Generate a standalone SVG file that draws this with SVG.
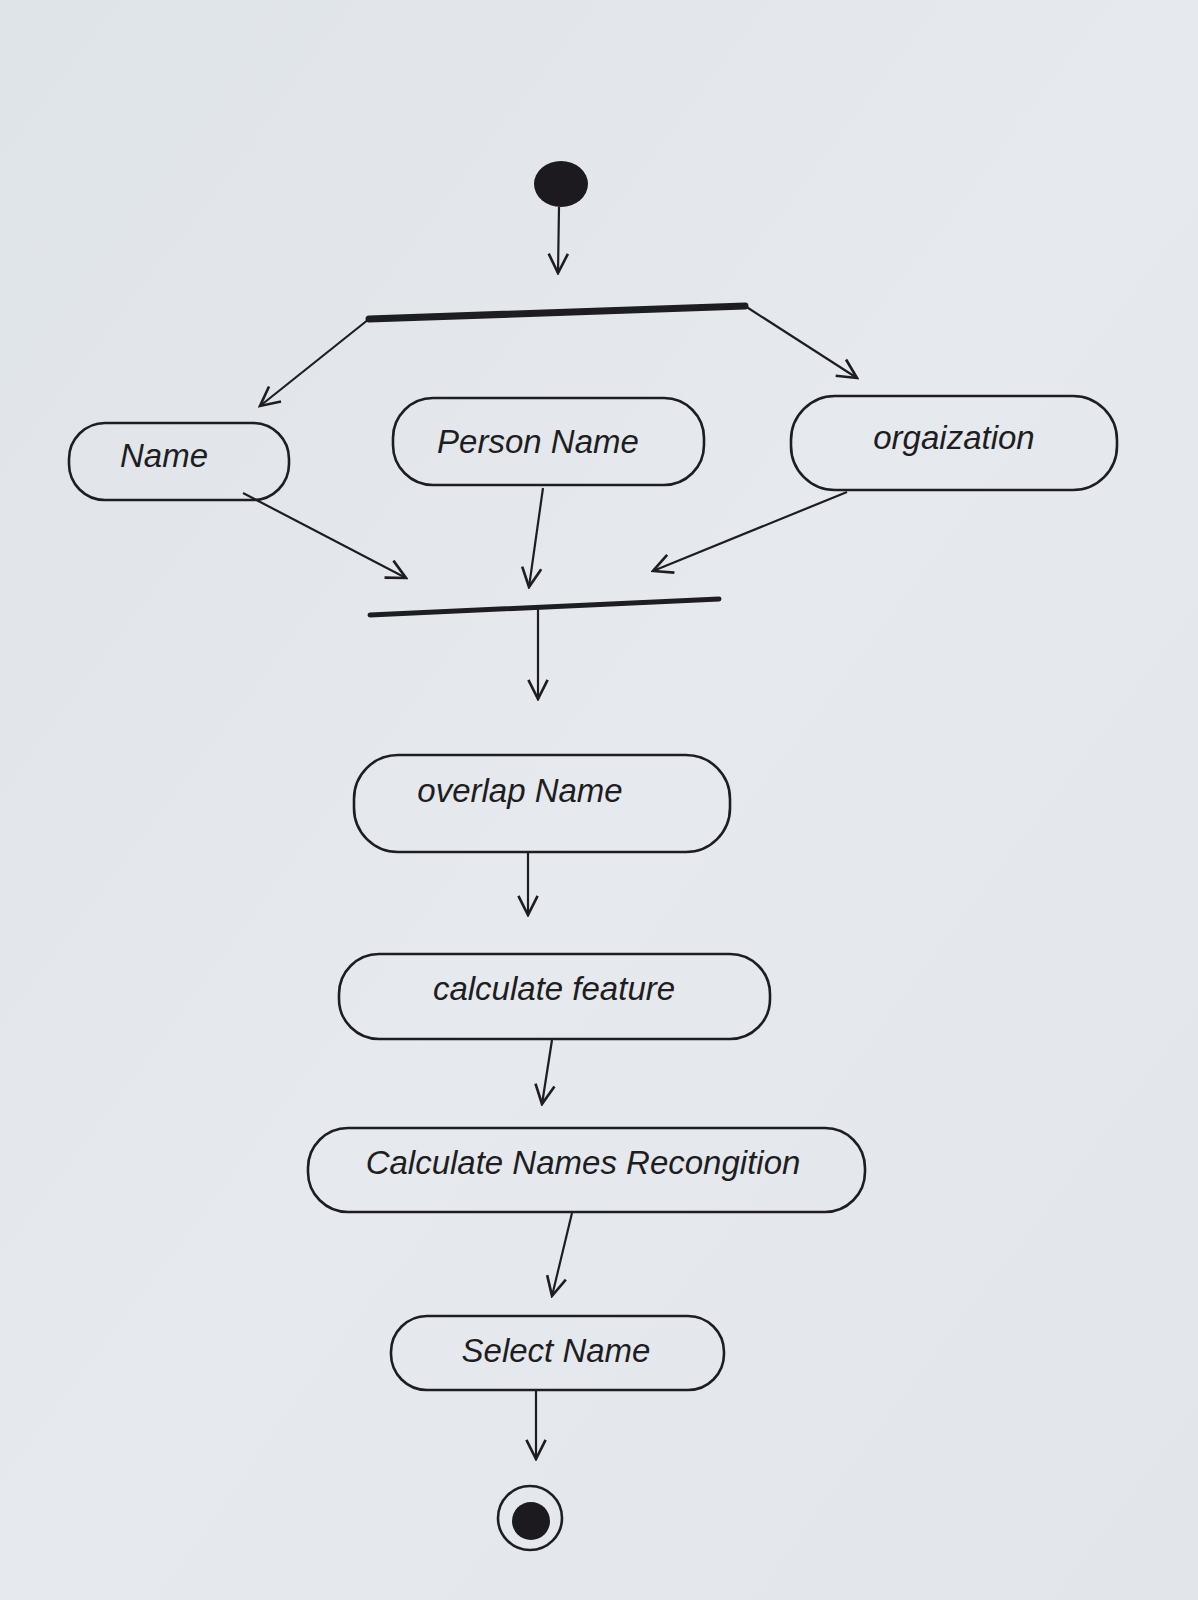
<svg xmlns="http://www.w3.org/2000/svg" width="1198" height="1600" viewBox="0 0 1198 1600">
<defs>
<linearGradient id="paper" x1="0" y1="0" x2="1" y2="1">
<stop offset="0" stop-color="#dfe4e9"/>
<stop offset="0.5" stop-color="#e6e9ed"/>
<stop offset="1" stop-color="#e2e5ea"/>
</linearGradient>
<marker id="arr" viewBox="0 0 20 20" refX="18" refY="10" markerWidth="24" markerHeight="24" markerUnits="userSpaceOnUse" orient="auto">
<polyline points="2,2 18,10 2,18" fill="none" stroke="#1e1e22" stroke-width="2.2"/>
</marker>
<style>
.node rect{fill:none;stroke:#1e1e22;stroke-width:2.6}
.node text{font-family:"Liberation Sans",Arial,sans-serif;font-style:italic;font-size:33px;fill:#1e1e22;text-anchor:middle;dominant-baseline:central}
.conn line{stroke:#1e1e22;stroke-width:2.2;marker-end:url(#arr)}
.bar{stroke:#1e1e22;stroke-linecap:round}
</style>
</defs>
<rect width="1198" height="1600" fill="url(#paper)"/>

<g id="start"><ellipse cx="561" cy="184" rx="27" ry="23" fill="#1c1a1f"/></g>
<g id="fork"><line class="bar" x1="369" y1="319" x2="745" y2="306" stroke-width="7"/></g>
<g id="join"><line class="bar" x1="370" y1="615" x2="719" y2="599" stroke-width="5"/></g>

<g id="name" class="node"><rect x="69" y="423" width="220" height="77" rx="36"/><text x="164" y="455">Name</text></g>
<g id="person-name" class="node"><rect x="393" y="398" width="311" height="87" rx="40"/><text x="538" y="441">Person Name</text></g>
<g id="organization" class="node"><rect x="791" y="396" width="326" height="94" rx="44"/><text x="954" y="437">orgaization</text></g>
<g id="overlap-name" class="node"><rect x="354" y="755" width="376" height="97" rx="44"/><text x="520" y="790">overlap Name</text></g>
<g id="calculate-feature" class="node"><rect x="339" y="954" width="431" height="85" rx="40"/><text x="554" y="988">calculate feature</text></g>
<g id="calc-names" class="node"><rect x="308" y="1128" width="557" height="84" rx="40"/><text x="583" y="1162">Calculate Names Recongition</text></g>
<g id="select-name" class="node"><rect x="391" y="1316" width="333" height="74" rx="36"/><text x="556" y="1350">Select Name</text></g>

<g id="end"><circle cx="530" cy="1518" r="32" fill="none" stroke="#1e1e22" stroke-width="2.6"/><circle cx="531" cy="1521" r="19" fill="#1c1a1f"/></g>

<g id="connectors" class="conn">
<line x1="559" y1="207" x2="558" y2="273"/>
<line x1="369" y1="319" x2="260" y2="406"/>
<line x1="745" y1="306" x2="857" y2="378"/>
<line x1="243" y1="493" x2="406" y2="578"/>
<line x1="543" y1="488" x2="529" y2="587"/>
<line x1="847" y1="492" x2="653" y2="571"/>
<line x1="538" y1="608" x2="538" y2="699"/>
<line x1="528" y1="853" x2="528" y2="915"/>
<line x1="552" y1="1040" x2="542" y2="1104"/>
<line x1="572" y1="1213" x2="552" y2="1296"/>
<line x1="536" y1="1391" x2="536" y2="1459"/>
</g>
</svg>
